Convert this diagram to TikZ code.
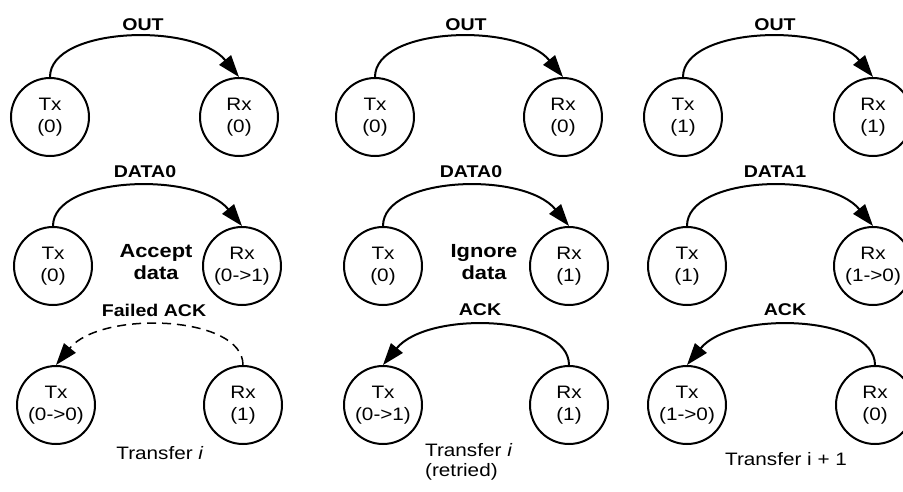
\documentclass[tikz,border=0pt]{standalone}
\usepackage{fontspec}
\setmainfont[FakeStretch=1.15]{Liberation Sans}
\usepackage{tikz}
\usetikzlibrary{arrows.meta}
\newcommand{\fs}[1]{\fontsize{#1}{#1}\selectfont}

\tikzset{
  st/.style={circle,draw,line width=2pt,minimum size=78pt,inner sep=0pt,
    align=center,font=\fontsize{18}{22}\selectfont},
  lb/.style={font=\bfseries\fs{17}},
  note/.style={align=center,font=\bfseries\fontsize{19}{22}\selectfont},
  tr/.style={font=\fontsize{18}{20}\selectfont},
  arc/.style={line width=2pt,-{Triangle[length=22pt,width=15pt]}},
  fail/.style={arc,line width=1.5pt,dash pattern=on 9pt off 6pt}
}

\begin{document}
\begin{tikzpicture}[x=1pt,y=-1pt]
    \useasboundingbox (0,0) rectangle (903,491);
    % row 1: OUT
    \node[st] (T11) at (50,117) {Tx\\(0)};
    \node[st] (R11) at (239,117) {Rx\\(0)};
    \node[st] (T12) at (375,117) {Tx\\(0)};
    \node[st] (R12) at (563,117) {Rx\\(0)};
    \node[st] (T13) at (683,117) {Tx\\(1)};
    \node[st] (R13) at (873,117) {Rx\\(1)};
    \node[lb] (O1) at (143,25) {OUT};
    \node[lb] (O2) at (466,25) {OUT};
    \node[lb] (O3) at (775,25) {OUT};
    \draw[arc] (T11.north) .. controls +(0,-50) and +(-45,-55) .. (R11.north);
    \draw[arc] (T12.north) .. controls +(0,-50) and +(-45,-55) .. (R12.north);
    \draw[arc] (T13.north) .. controls +(0,-50) and +(-45,-55) .. (R13.north);
    % row 2: DATA
    \node[st] (T21) at (53,266) {Tx\\(0)};
    \node[st] (R21) at (242,266) {Rx\\(0->1)};
    \node[st] (T22) at (383,266) {Tx\\(0)};
    \node[st] (R22) at (569,266) {Rx\\(1)};
    \node[st] (T23) at (687,266) {Tx\\(1)};
    \node[st] (R23) at (873,266) {Rx\\(1->0)};
    \node[lb] (D1) at (145,172) {DATA0};
    \node[lb] (D2) at (471,172) {DATA0};
    \node[lb] (D3) at (775,172) {DATA1};
    \node[note] (N1) at (156,262) {Accept\\data};
    \node[note] (N2) at (484,262) {Ignore\\data};
    \draw[arc] (T21.north) .. controls +(0,-50) and +(-45,-55) .. (R21.north);
    \draw[arc] (T22.north) .. controls +(0,-50) and +(-45,-55) .. (R22.north);
    \draw[arc] (T23.north) .. controls +(0,-50) and +(-45,-55) .. (R23.north);
    % row 3: ACK
    \node[st] (T31) at (56,405) {Tx\\(0->0)};
    \node[st] (R31) at (243,405) {Rx\\(1)};
    \node[st] (T32) at (383,405) {Tx\\(0->1)};
    \node[st] (R32) at (569,405) {Rx\\(1)};
    \node[st] (T33) at (687,405) {Tx\\(1->0)};
    \node[st] (R33) at (875,405) {Rx\\(0)};
    \node[lb] (A1) at (154,310) {Failed ACK};
    \node[lb] (A2) at (480,310) {ACK};
    \node[lb] (A3) at (785,310) {ACK};
    \draw[fail] (R31.north) .. controls +(0,-50) and +(45,-55) .. (T31.north);
    \draw[arc] (R32.north) .. controls +(0,-50) and +(45,-55) .. (T32.north);
    \draw[arc] (R33.north) .. controls +(0,-50) and +(45,-55) .. (T33.north);
    % transfers
    \node[tr] (X1) at (160,453) {Transfer \textit{i}};
    \node[tr,align=left,anchor=west,inner sep=0pt] (X2) at (425,462) {Transfer \textit{i}\\(retried)};
    \node[tr] (X3) at (786,459) {Transfer i + 1};
\end{tikzpicture}
\end{document}
